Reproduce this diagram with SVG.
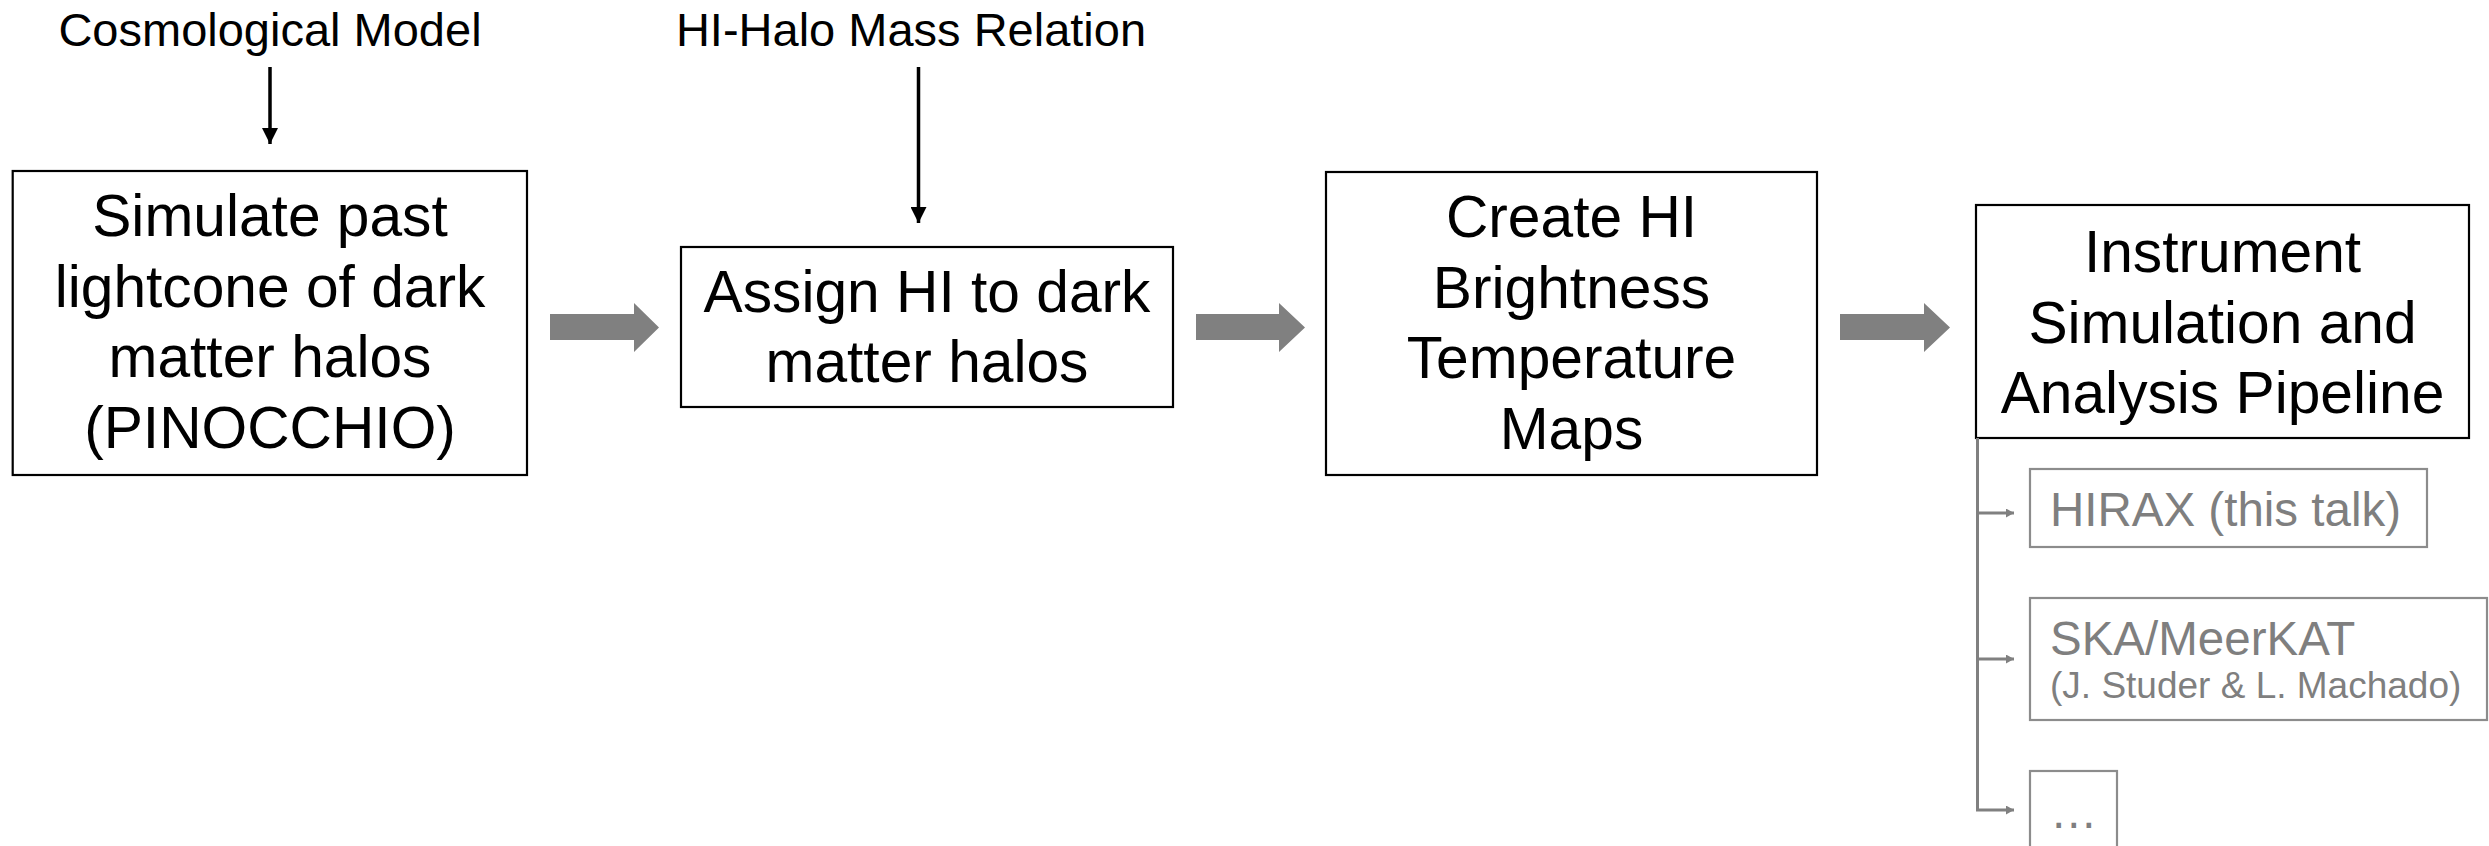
<svg xmlns="http://www.w3.org/2000/svg" width="2489" height="846" viewBox="0 0 2489 846">
<defs>
<style>
.box{fill:#ffffff;stroke:#000000;stroke-width:2.2}
.gbox{fill:#ffffff;stroke:#8c8c8c;stroke-width:2.2}
.t{font-family:"Liberation Sans",Arial,sans-serif;font-size:58.7px;fill:#000000;text-anchor:middle}
.lab{font-family:"Liberation Sans",Arial,sans-serif;font-size:47px;fill:#000000;text-anchor:middle}
.g{font-family:"Liberation Sans",Arial,sans-serif;font-size:47.5px;fill:#7f7f7f}
.gs{font-family:"Liberation Sans",Arial,sans-serif;font-size:37px;fill:#7f7f7f}
.fat{fill:#808080}
.thin{stroke:#000000;stroke-width:3.5;fill:none}
.gl{stroke:#808080;stroke-width:3;fill:none}
</style>
<marker id="ah" markerWidth="16" markerHeight="16" viewBox="0 0 16 16" refX="16" refY="8" orient="auto" markerUnits="userSpaceOnUse">
<path d="M0,0 L16,8 L0,16 Z" fill="#000000"/>
</marker>
<marker id="gh" markerWidth="8" markerHeight="9" viewBox="0 0 8 9" refX="8" refY="4.5" orient="auto" markerUnits="userSpaceOnUse">
<path d="M0,0 L8,4.5 L0,9 Z" fill="#808080"/>
</marker>
</defs>

<g id="label-cosmo">
<text class="lab" x="270" y="46">Cosmological Model</text>
</g>
<g id="label-hihalo">
<text class="lab" x="911" y="46">HI-Halo Mass Relation</text>
</g>

<g id="node-simulate">
<rect class="box" x="12.7" y="171" width="514.3" height="304"/>
<text class="t" x="270" y="236">Simulate past</text>
<text class="t" x="270" y="306.5">lightcone of dark</text>
<text class="t" x="270" y="377">matter halos</text>
<text class="t" x="270" y="447.5">(PINOCCHIO)</text>
</g>

<g id="node-assign">
<rect class="box" x="681" y="247" width="492" height="160"/>
<text class="t" x="927" y="312">Assign HI to dark</text>
<text class="t" x="927" y="382">matter halos</text>
</g>

<g id="node-create">
<rect class="box" x="1326" y="172" width="491" height="303"/>
<text class="t" x="1571.5" y="237">Create HI</text>
<text class="t" x="1571.5" y="307.5">Brightness</text>
<text class="t" x="1571.5" y="378">Temperature</text>
<text class="t" x="1571.5" y="448.5">Maps</text>
</g>

<g id="node-instrument">
<rect class="box" x="1976" y="205" width="493" height="233"/>
<text class="t" x="2222.5" y="272">Instrument</text>
<text class="t" x="2222.5" y="342.5">Simulation and</text>
<text class="t" x="2222.5" y="413">Analysis Pipeline</text>
</g>

<g id="node-hirax">
<rect class="gbox" x="2030" y="469" width="397" height="78"/>
<text class="g" x="2050" y="526">HIRAX (this talk)</text>
</g>

<g id="node-ska">
<rect class="gbox" x="2030" y="598" width="457" height="122"/>
<text class="g" x="2050" y="655">SKA/MeerKAT</text>
<text class="gs" x="2050" y="698">(J. Studer &amp; L. Machado)</text>
</g>

<g id="node-more">
<rect class="gbox" x="2030" y="771" width="87" height="90"/>
<text class="g" x="2050" y="828">…</text>
</g>

<g id="connectors">
<line class="thin" x1="270" y1="67" x2="270" y2="144" marker-end="url(#ah)"/>
<line class="thin" x1="918.5" y1="67" x2="918.5" y2="223" marker-end="url(#ah)"/>
<path class="fat" d="M550,314 L634,314 L634,303 L659,327.5 L634,352 L634,340 L550,340 Z"/>
<path class="fat" d="M1196,314 L1279,314 L1279,303 L1305,327.5 L1279,352 L1279,340 L1196,340 Z"/>
<path class="fat" d="M1840,314 L1924,314 L1924,303 L1950,327.5 L1924,352 L1924,340 L1840,340 Z"/>
<path class="gl" d="M1977.5,438 L1977.5,810 L2014,810" marker-end="url(#gh)"/>
<line class="gl" x1="1977.5" y1="513" x2="2014" y2="513" marker-end="url(#gh)"/>
<line class="gl" x1="1977.5" y1="659" x2="2014" y2="659" marker-end="url(#gh)"/>
</g>
</svg>
